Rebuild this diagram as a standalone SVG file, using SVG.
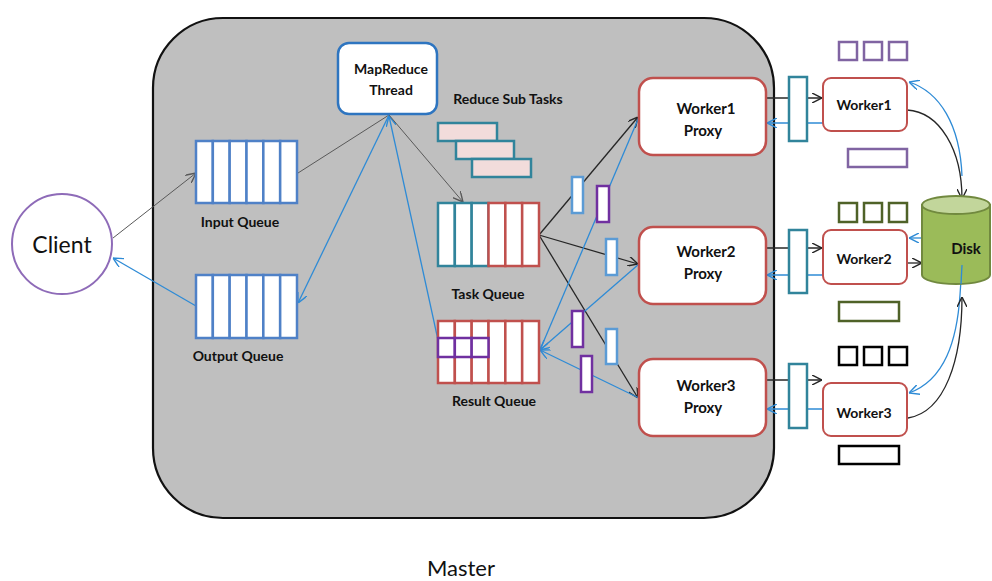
<svg xmlns="http://www.w3.org/2000/svg" width="992" height="581" viewBox="0 0 992 581">
<style>
text{font-family:Lato,"Open Sans","Liberation Sans",sans-serif;fill:#111}
.lb{font-weight:bold;font-size:14px;text-anchor:middle;dominant-baseline:central}
.qb{fill:#fff;stroke:#4f81c7;stroke-width:2.5}
.qt{fill:#fff;stroke:#31849b;stroke-width:2.5}
.qr{fill:#fff;stroke:#c0504d;stroke-width:2.5}
.qp{fill:#fff;stroke:#7030a0;stroke-width:2.5}
.sub{fill:#f2dcdb;stroke:#31849b;stroke-width:2.5}
.bb{fill:#fff;stroke:#5b9bd5;stroke-width:2.5}
.bp{fill:#fff;stroke:#7030a0;stroke-width:2.5}
.bt{fill:#fff;stroke:#31849b;stroke-width:2.5}
.px{fill:#fff;stroke:#c0504d;stroke-width:2.5}
.wk{fill:#fff;stroke:#c0504d;stroke-width:2}
.sqp{fill:#fff;stroke:#8064a2;stroke-width:2.5}
.sqg{fill:#fff;stroke:#4f6228;stroke-width:2.5}
.sqk{fill:#fff;stroke:#000;stroke-width:2.5}
.k{fill:none;stroke:#262626;stroke-width:1.3}
.g{fill:none;stroke:#595959;stroke-width:1}
.b{fill:none;stroke:#2e8bd6;stroke-width:1.3}
</style>
<defs>
<marker id="ak" viewBox="0 0 10 10" refX="10" refY="5" markerWidth="10" markerHeight="10" markerUnits="userSpaceOnUse" orient="auto"><path d="M0,0 L10,5 L0,10" fill="none" stroke="#262626" stroke-width="1.4"/></marker>
<marker id="ag" viewBox="0 0 10 10" refX="10" refY="5" markerWidth="10" markerHeight="10" markerUnits="userSpaceOnUse" orient="auto"><path d="M0,0 L10,5 L0,10" fill="none" stroke="#595959" stroke-width="1.4"/></marker>
<marker id="ab" viewBox="0 0 10 10" refX="10" refY="5" markerWidth="10" markerHeight="10" markerUnits="userSpaceOnUse" orient="auto"><path d="M0,0 L10,5 L0,10" fill="none" stroke="#2e8bd6" stroke-width="1.4"/></marker>
</defs>
<rect width="992" height="581" fill="#fff"/>
<g id="master">
<rect x="153" y="18" width="621" height="500" rx="70" ry="70" fill="#bfbfbf" stroke="#111" stroke-width="2.2"/>
<text x="461" y="567" style="font-size:22px;text-anchor:middle;dominant-baseline:central">Master</text>
</g>
<g id="connectors">
<line class="g" x1="113" y1="238" x2="196" y2="173" marker-end="url(#ag)"/>
<line class="b" x1="196" y1="306" x2="113" y2="258" marker-end="url(#ab)"/>
<line class="g" x1="298" y1="173" x2="389" y2="115"/>
<line class="b" x1="389" y1="115" x2="298" y2="303" marker-end="url(#ab)"/>
<line class="b" x1="438" y1="340" x2="389" y2="116" marker-end="url(#ab)"/>
<line class="g" x1="389" y1="115" x2="463" y2="202" marker-end="url(#ag)"/>
<line class="k" x1="539" y1="235" x2="638" y2="117" marker-end="url(#ak)"/>
<line class="k" x1="539" y1="235" x2="638" y2="264" marker-end="url(#ak)"/>
<line class="k" x1="539" y1="235" x2="638" y2="398" marker-end="url(#ak)"/>
<line class="b" x1="639" y1="117" x2="540" y2="350" marker-end="url(#ab)"/>
<line class="b" x1="639" y1="264" x2="540" y2="350" marker-end="url(#ab)"/>
<line class="b" x1="639" y1="398" x2="540" y2="350" marker-end="url(#ab)"/>
<line class="k" x1="766" y1="98" x2="822" y2="98" marker-end="url(#ak)"/>
<line class="b" x1="823" y1="123" x2="767" y2="123" marker-end="url(#ab)"/>
<line class="k" x1="766" y1="248" x2="822" y2="248" marker-end="url(#ak)"/>
<line class="b" x1="823" y1="275" x2="767" y2="275" marker-end="url(#ab)"/>
<line class="k" x1="766" y1="380" x2="822" y2="380" marker-end="url(#ak)"/>
<line class="b" x1="823" y1="409" x2="767" y2="409" marker-end="url(#ab)"/>
<path class="k" d="M907,110 C940,112 962,150 962,199" marker-end="url(#ak)"/>
<path class="b" d="M962,176 C960,125 940,92 909,82" marker-end="url(#ab)"/>
<line class="b" x1="922" y1="238" x2="909" y2="238" marker-end="url(#ab)"/>
<line class="k" x1="907" y1="263" x2="922" y2="263" marker-end="url(#ak)"/>
<path class="b" d="M962,265 L960,295 C957,340 945,380 909,393" marker-end="url(#ab)"/>
<path class="k" d="M908,418 C945,412 962,360 962,297" marker-end="url(#ak)"/>
</g>
<g id="client">
<circle cx="62" cy="244" r="50" fill="#fff" stroke="#8e6bb8" stroke-width="2"/>
<text x="62" y="244" style="font-size:23px;text-anchor:middle;dominant-baseline:central">Client</text>
</g>
<g id="input-queue">
<rect class="qb" x="196" y="141" width="16.83" height="62"/><rect class="qb" x="212.83" y="141" width="16.83" height="62"/><rect class="qb" x="229.67" y="141" width="16.83" height="62"/><rect class="qb" x="246.5" y="141" width="16.83" height="62"/><rect class="qb" x="263.33" y="141" width="16.83" height="62"/><rect class="qb" x="280.17" y="141" width="16.83" height="62"/>
<text class="lb" x="240" y="221">Input Queue</text>
</g>
<g id="output-queue">
<rect class="qb" x="196" y="275" width="16.83" height="63"/><rect class="qb" x="212.83" y="275" width="16.83" height="63"/><rect class="qb" x="229.67" y="275" width="16.83" height="63"/><rect class="qb" x="246.5" y="275" width="16.83" height="63"/><rect class="qb" x="263.33" y="275" width="16.83" height="63"/><rect class="qb" x="280.17" y="275" width="16.83" height="63"/>
<text class="lb" x="238" y="355">Output Queue</text>
</g>
<g id="mapreduce-thread">
<rect x="338" y="43" width="99" height="71" rx="11" fill="#fff" stroke="#2e75c0" stroke-width="2.5"/>
<text class="lb" x="391" y="68">MapReduce</text>
<text class="lb" x="391" y="89">Thread</text>
</g>
<g id="reduce-sub-tasks">
<text class="lb" x="508" y="98">Reduce Sub Tasks</text>
<rect class="sub" x="438" y="123" width="59" height="18"/>
<rect class="sub" x="456" y="141" width="58" height="18"/>
<rect class="sub" x="472" y="159" width="59" height="18"/>
</g>
<g id="task-queue">
<rect class="qt" x="438" y="203" width="16.83" height="63"/><rect class="qt" x="454.83" y="203" width="16.83" height="63"/><rect class="qt" x="471.67" y="203" width="16.83" height="63"/><rect class="qr" x="488.5" y="203" width="16.83" height="63"/><rect class="qr" x="505.33" y="203" width="16.83" height="63"/><rect class="qr" x="522.17" y="203" width="16.83" height="63"/>
<text class="lb" x="488" y="293">Task Queue</text>
</g>
<g id="result-queue">
<rect class="qr" x="438" y="321" width="16.83" height="62"/><rect class="qr" x="454.83" y="321" width="16.83" height="62"/><rect class="qr" x="471.67" y="321" width="16.83" height="62"/><rect class="qr" x="488.5" y="321" width="16.83" height="62"/><rect class="qr" x="505.33" y="321" width="16.83" height="62"/><rect class="qr" x="522.17" y="321" width="16.83" height="62"/>
<rect class="qp" x="438" y="338" width="16.83" height="19"/><rect class="qp" x="454.83" y="338" width="16.83" height="19"/><rect class="qp" x="471.67" y="338" width="16.83" height="19"/>
<text class="lb" x="494" y="400">Result Queue</text>
</g>
<g id="messages">
<rect class="bb" x="572" y="177" width="11" height="36"/>
<rect class="bp" x="597" y="186" width="12" height="36"/>
<rect class="bb" x="606" y="239" width="11" height="36"/>
<rect class="bp" x="572" y="311" width="11" height="36"/>
<rect class="bb" x="606" y="329" width="11" height="35"/>
<rect class="bp" x="581" y="356" width="11" height="36"/>
</g>
<g id="worker1-proxy">
<rect class="px" x="639" y="78" width="127" height="77" rx="14"/>
<text class="lb" x="706" y="108" style="font-size:15px">Worker1</text>
<text class="lb" x="703" y="130" style="font-size:15px">Proxy</text>
</g>
<g id="worker2-proxy">
<rect class="px" x="639" y="227" width="127" height="77" rx="14"/>
<text class="lb" x="706" y="251" style="font-size:15px">Worker2</text>
<text class="lb" x="703" y="273" style="font-size:15px">Proxy</text>
</g>
<g id="worker3-proxy">
<rect class="px" x="639" y="359" width="127" height="77" rx="14"/>
<text class="lb" x="706" y="385" style="font-size:15px">Worker3</text>
<text class="lb" x="703" y="407" style="font-size:15px">Proxy</text>
</g>
<g id="channels">
<rect class="bt" x="789" y="77" width="18" height="64"/>
<rect class="bt" x="789" y="230" width="18" height="63"/>
<rect class="bt" x="789" y="364" width="18" height="64"/>
</g>
<g id="worker1">
<rect class="wk" x="823" y="78" width="84" height="53" rx="8"/>
<text class="lb" x="864" y="104">Worker1</text>
<rect class="sqp" x="839" y="42" width="18" height="18"/><rect class="sqp" x="864" y="42" width="18" height="18"/><rect class="sqp" x="889" y="42" width="18" height="18"/>
<rect class="sqp" x="848" y="149" width="59" height="18"/>
</g>
<g id="worker2">
<rect class="wk" x="823" y="230" width="84" height="54" rx="8"/>
<text class="lb" x="864" y="258">Worker2</text>
<rect class="sqg" x="839" y="203" width="18" height="19"/><rect class="sqg" x="864" y="203" width="18" height="19"/><rect class="sqg" x="889" y="203" width="18" height="19"/>
<rect class="sqg" x="839" y="302" width="60" height="19"/>
</g>
<g id="worker3">
<rect class="wk" x="823" y="383" width="84" height="53" rx="8"/>
<text class="lb" x="864" y="412">Worker3</text>
<rect class="sqk" x="839" y="347" width="18" height="18"/><rect class="sqk" x="864" y="347" width="18" height="18"/><rect class="sqk" x="889" y="347" width="18" height="18"/>
<rect class="sqk" x="839" y="446" width="60" height="18"/>
</g>
<g id="disk">
<path d="M922,205 L922,275 A34,9 0 0 0 990,275 L990,205 Z" fill="#9bbb59" stroke="#71893f" stroke-width="2"/>
<ellipse cx="956" cy="205" rx="34" ry="9" fill="#c2d69b" stroke="#71893f" stroke-width="2"/>
<text class="lb" x="966" y="248" style="font-size:15px">Disk</text>
</g>
<path class="b" d="M962,265 L961,284"/>
</svg>
